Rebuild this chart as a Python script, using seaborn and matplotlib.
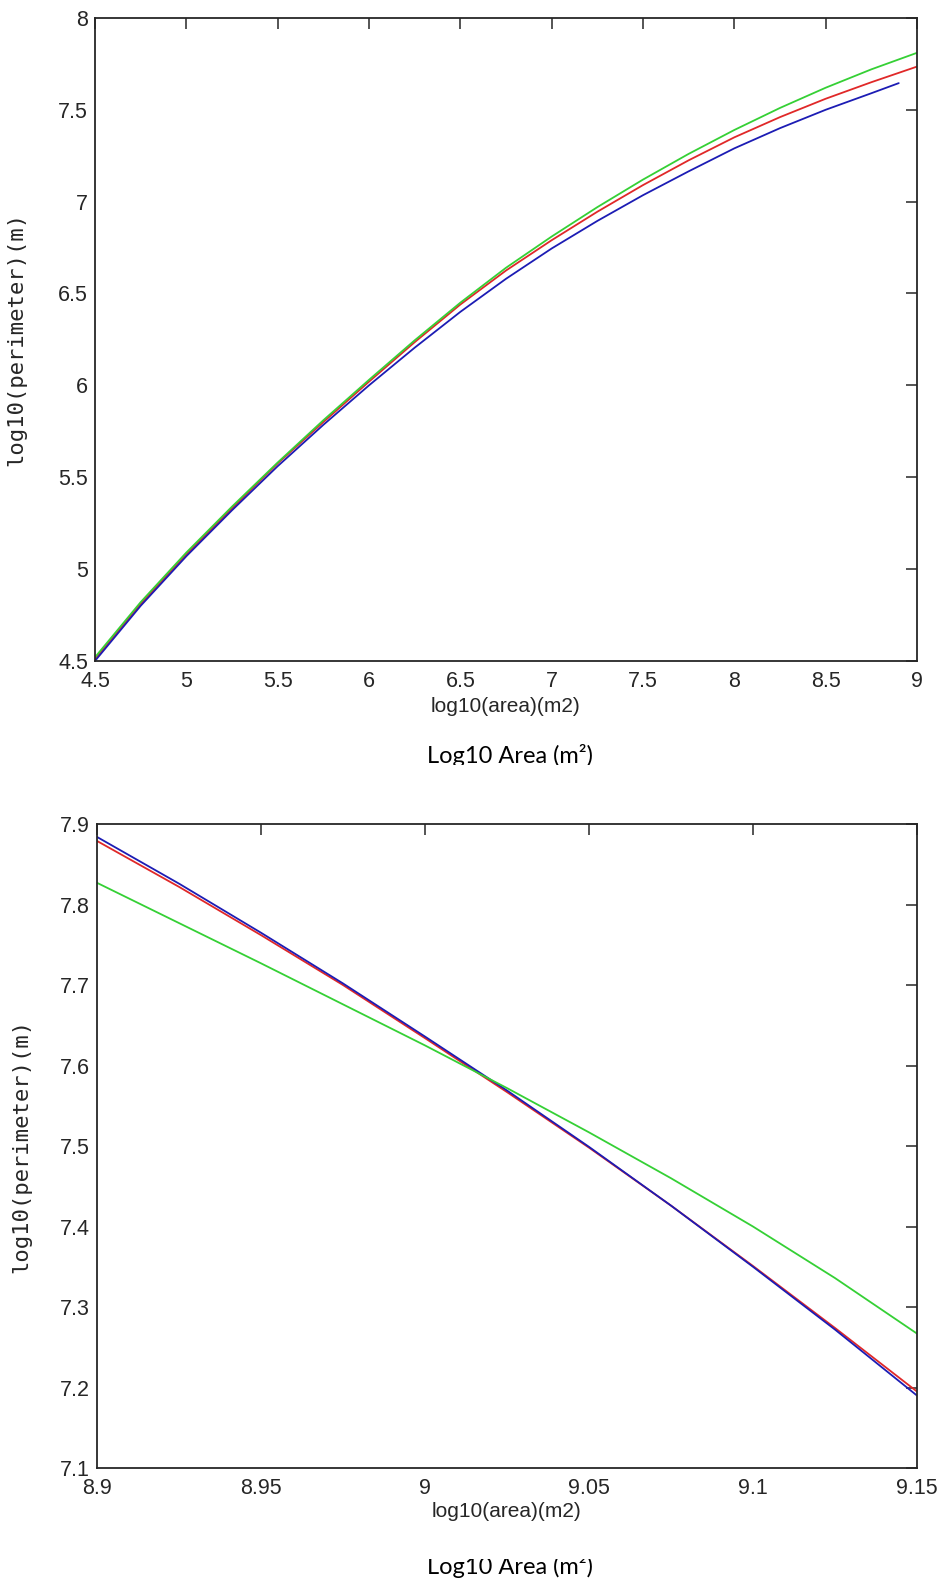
import matplotlib
matplotlib.use('Agg')
import matplotlib.pyplot as plt
import seaborn as sns
from matplotlib.patches import Rectangle
from matplotlib.ticker import FormatStrFormatter, MultipleLocator

sns.set_style('white')
plt.rcParams['font.family'] = ['Liberation Sans', 'DejaVu Sans']

# %%
# top panel: full range of log10(area)
area_top = [4.5, 4.75, 5.0, 5.25, 5.5, 5.75, 6.0, 6.25, 6.5, 6.75,
            7.0, 7.25, 7.5, 7.75, 8.0, 8.25, 8.5, 8.75, 9.0]
perim_green_top = [4.52, 4.82, 5.09, 5.34, 5.58, 5.81, 6.03, 6.245, 6.45, 6.64,
                   6.81, 6.97, 7.12, 7.26, 7.39, 7.51, 7.62, 7.72, 7.81]
perim_red_top = [4.51, 4.81, 5.08, 5.33, 5.575, 5.80, 6.02, 6.235, 6.44, 6.625,
                 6.79, 6.945, 7.09, 7.225, 7.35, 7.46, 7.56, 7.65, 7.735]
area_blue_top = [4.5, 4.75, 5.0, 5.25, 5.5, 5.75, 6.0, 6.25, 6.5, 6.75,
                 7.0, 7.25, 7.5, 7.75, 8.0, 8.25, 8.5, 8.75, 8.9]
perim_blue_top = [4.5, 4.80, 5.07, 5.32, 5.56, 5.785, 6.0, 6.205, 6.40, 6.58,
                  6.745, 6.895, 7.035, 7.165, 7.29, 7.40, 7.50, 7.59, 7.645]

# bottom panel: zoom around log10(area) = 9
area_bot = [8.9, 8.925, 8.95, 8.975, 9.0, 9.025, 9.05, 9.075, 9.1, 9.125, 9.15]
perim_blue_bot = [7.884, 7.826, 7.765, 7.702, 7.636, 7.569, 7.499, 7.426, 7.350, 7.272, 7.190]
perim_red_bot = [7.879, 7.822, 7.762, 7.700, 7.634, 7.567, 7.498, 7.426, 7.351, 7.274, 7.195]
perim_green_bot = [7.827, 7.777, 7.727, 7.676, 7.625, 7.572, 7.517, 7.460, 7.400, 7.336, 7.267]

c_blue = '#1c1cb4'
c_red = '#e02828'
c_green = '#35d035'
ink = '#262626'


# %%
def style_axes(ax, xlim, ylim, xstep, ystep):
    ax.set_xlim(xlim)
    ax.set_ylim(ylim)
    ax.xaxis.set_major_locator(MultipleLocator(xstep))
    ax.yaxis.set_major_locator(MultipleLocator(ystep))
    ax.xaxis.set_major_formatter(FormatStrFormatter('%g'))
    ax.yaxis.set_major_formatter(FormatStrFormatter('%g'))
    ax.tick_params(direction='in', length=8, width=1.1, top=True, right=True,
                   labelsize=15.5, colors=ink, pad=7)
    ax.tick_params(axis='y', pad=5)
    for sp in ax.spines.values():
        sp.set_visible(True)
        sp.set_color(ink)
        sp.set_linewidth(1.3)
    ax.set_xlabel('log10(area)(m2)', fontsize=15, color=ink)
    # the rotated label is drawn much longer in the original
    ax.set_ylabel('log10(perimeter)(m)', fontsize=16, color=ink,
                  family=['DejaVu Sans Mono', 'DejaVu Sans'])
    ax.grid(False)


fig = plt.figure(figsize=(9.48, 15.85), dpi=100)
ax1 = fig.add_axes([0.1002, 0.5830, 0.8671, 0.4057])
ax2 = fig.add_axes([0.1023, 0.0738, 0.8650, 0.4063])

sns.lineplot(x=area_top, y=perim_red_top, color=c_red, lw=1.3, ax=ax1, estimator=None, sort=False)
sns.lineplot(x=area_blue_top, y=perim_blue_top, color=c_blue, lw=1.3, ax=ax1, estimator=None, sort=False)
sns.lineplot(x=area_top, y=perim_green_top, color=c_green, lw=1.3, ax=ax1, estimator=None, sort=False)
style_axes(ax1, (4.5, 9), (4.5, 8), 0.5, 0.5)
ax1.xaxis.set_label_coords(0.5, -0.056)
ax1.yaxis.set_label_coords(-0.083, 0.5)

sns.lineplot(x=area_bot, y=perim_red_bot, color=c_red, lw=1.3, ax=ax2, estimator=None, sort=False)
sns.lineplot(x=area_bot, y=perim_blue_bot, color=c_blue, lw=1.3, ax=ax2, estimator=None, sort=False)
sns.lineplot(x=area_bot, y=perim_green_bot, color=c_green, lw=1.3, ax=ax2, estimator=None, sort=False)
style_axes(ax2, (8.9, 9.15), (7.1, 7.9), 0.05, 0.1)
ax2.xaxis.set_label_coords(0.5, -0.053)
ax2.yaxis.set_label_coords(-0.080, 0.5)

# captions pasted under each plot, partly cut off
H = 1585
cap_font = ['Lato', 'DejaVu Sans']
fig.text(510 / 948, 1 - 763 / H, 'Log10 Area (m²)', ha='center', va='baseline',
         fontsize=17, family=cap_font, color='black')
fig.add_artist(Rectangle((0, 1 - 795 / H), 1, 30 / H, transform=fig.transFigure,
                         facecolor='white', edgecolor='none', zorder=10))
fig.text(510 / 948, 1 - 1574 / H, 'Log10 Area (m²)', ha='center', va='baseline',
         fontsize=17, family=cap_font, color='black')
fig.add_artist(Rectangle((0, 1 - 1559 / H), 1, 29 / H, transform=fig.transFigure,
                         facecolor='white', edgecolor='none', zorder=10))

fig.savefig('out.png', dpi=100, facecolor='white')
